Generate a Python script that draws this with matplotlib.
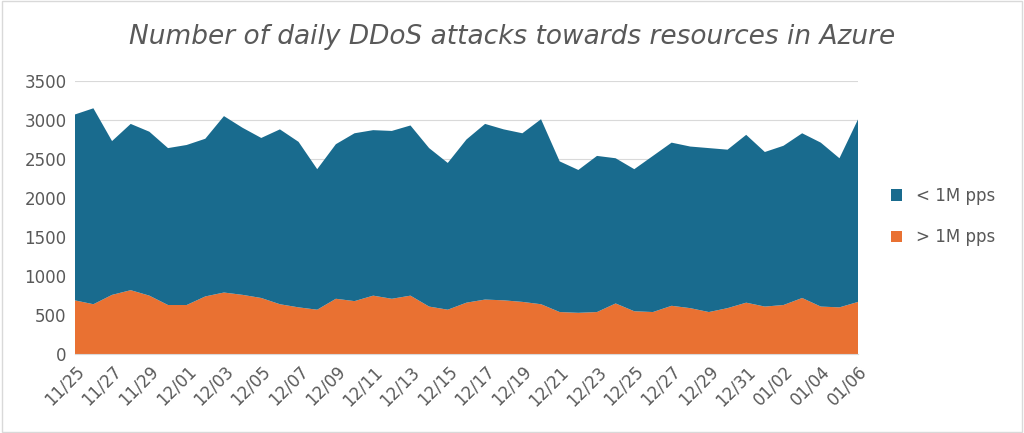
import matplotlib
matplotlib.use("Agg")
import matplotlib.pyplot as plt
from matplotlib.patches import Rectangle
import datetime as dt

start = dt.date(2023, 11, 25)
dates = [(start + dt.timedelta(days=i)).strftime("%m/%d") for i in range(43)]
total = [3070,3150,2730,2950,2850,2640,2680,2760,3050,2900,2770,2880,2720,2370,2690,2830,
         2870,2860,2930,2640,2450,2750,2950,2880,2830,3010,2470,2360,2540,2510,2370,2540,
         2710,2660,2640,2620,2810,2590,2670,2830,2710,2510,3010]
high = [690,640,760,820,750,630,630,740,790,760,720,640,600,570,710,680,750,710,750,610,
        570,660,700,690,670,640,540,530,540,650,550,540,620,590,540,590,660,610,630,720,
        610,600,670]
low = [t - h for t, h in zip(total, high)]

fig = plt.figure(figsize=(10.24, 4.33), dpi=100)
ax = fig.add_axes([0.073, 0.182, 0.765, 0.631])
x = list(range(len(dates)))
ax.stackplot(x, high, low, colors=["#E97132", "#196B8E"], labels=["> 1M pps", "< 1M pps"])
ax.set_xlim(0, 42)
ax.set_ylim(0, 3500)
ax.set_yticks(range(0, 3501, 500))
ax.set_xticks(x[::2])
ax.set_xticklabels(dates[::2], rotation=45, ha="right", rotation_mode="anchor")
ax.grid(axis="y", color="#d9d9d9", lw=0.8)
ax.set_axisbelow(True)
for s in ["top", "right", "left"]:
    ax.spines[s].set_visible(False)
ax.spines["bottom"].set_color("#d9d9d9")
ax.tick_params(length=0, labelsize=12, colors="#595959", pad=6)
h, l = ax.get_legend_handles_labels()
fig.legend(h[::-1], l[::-1], loc="center left", bbox_to_anchor=(0.855, 0.5), frameon=False,
           fontsize=12, labelcolor="#595959", handlelength=0.7, handleheight=0.7, labelspacing=1.4)
fig.text(0.5, 0.915, "Number of daily DDoS attacks towards resources in Azure", ha="center",
         va="center", fontsize=19, style="italic", color="#595959")
fig.patches.append(Rectangle((0.002, 0.003), 0.996, 0.994, transform=fig.transFigure,
                             fill=False, ec="#d9d9d9", lw=1))
fig.savefig("out.png", dpi=100)
